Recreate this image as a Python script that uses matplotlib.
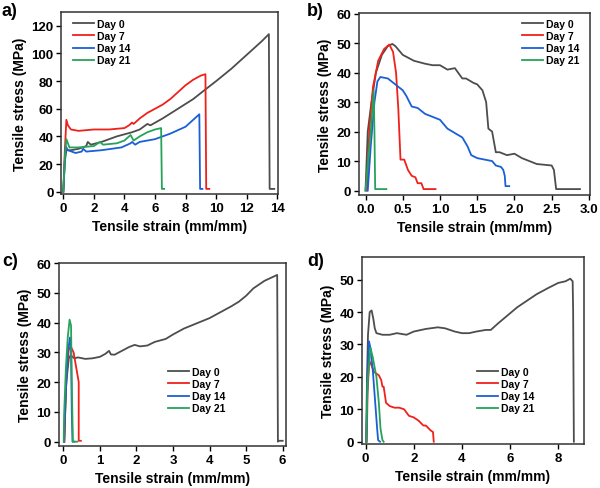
import matplotlib
matplotlib.use("Agg")
import matplotlib.pyplot as plt
import numpy as np

plt.rcParams['font.family'] = ['Liberation Sans', 'DejaVu Sans']
plt.rcParams['font.weight'] = 'bold'

labels = ["Day 0", "Day 7", "Day 14", "Day 21"]
colors = ["#4d4d4d", "#f0201a", "#1a5fd6", "#26a35a"]

# ---- panel a ----
a_d0_x = [0.0, 0.1, 0.2, 0.5, 1.0, 1.5, 1.6, 1.8, 2.5, 3.5, 4.5, 5.0, 5.5, 5.7, 6.5, 7.5, 8.5, 9.3, 10.0, 11.0, 12.0, 13.0, 13.45, 13.5, 13.55, 13.8]
a_d0_y = [0, 22, 30, 30, 31, 33, 36, 34, 36, 40, 43, 45, 49, 48, 53, 60, 67, 74, 80, 89, 99, 109, 114, 2, 2, 2]
a_d7_x = [0.0, 0.1, 0.2, 0.3, 0.5, 1.0, 2.0, 3.0, 4.0, 4.3, 4.5, 4.6, 5.0, 5.5, 6.0, 6.5, 7.0, 7.5, 8.0, 8.5, 9.0, 9.3, 9.35, 9.55]
a_d7_y = [0, 30, 52, 48, 45, 44, 45, 45, 46, 48, 50, 49, 53, 57, 60, 63, 67, 72, 77, 81, 84, 85, 2, 2]
a_d14_x = [0.0, 0.08, 0.15, 0.3, 0.8, 1.2, 1.3, 1.5, 2.5, 3.8, 4.4, 4.5, 4.7, 5.0, 6.0, 7.0, 8.0, 8.5, 8.9, 8.95, 9.1]
a_d14_y = [0, 18, 33, 30, 28, 29, 31, 29, 30, 32, 35, 36, 34, 36, 38, 42, 47, 52, 56, 2, 2]
a_d21_x = [0.0, 0.1, 0.2, 0.4, 1.0, 2.0, 2.4, 2.6, 3.5, 4.0, 4.4, 4.6, 5.0, 5.5, 6.0, 6.4, 6.45, 6.6]
a_d21_y = [0, 25, 38, 32, 32, 33, 36, 34, 35, 37, 41, 37, 40, 43, 45, 46, 2, 2]

# ---- panel b ----
b_d0_x = [0.0, 0.03, 0.08, 0.14, 0.22, 0.3, 0.36, 0.4, 0.5, 0.65, 0.8, 0.9, 1.0, 1.1, 1.2, 1.3, 1.35, 1.45, 1.5, 1.57, 1.62, 1.65, 1.7, 1.75, 1.8, 1.9, 2.0, 2.1, 2.2, 2.3, 2.5, 2.53, 2.56, 2.88]
b_d0_y = [0, 20, 30, 40, 46, 49, 49.7, 49, 46, 44, 43, 42.5, 42.5, 41, 41.5, 38, 38, 36.5, 36, 34, 30, 21, 20, 13, 13, 12, 12.5, 11, 10, 9, 8.5, 7, 0.5, 0.5]
b_d7_x = [0.02, 0.05, 0.1, 0.17, 0.25, 0.32, 0.37, 0.41, 0.44, 0.47, 0.52, 0.57, 0.62, 0.67, 0.7, 0.75, 0.78, 0.94]
b_d7_y = [0, 20, 35, 44, 48, 49.5, 47, 40, 28, 10.5, 10.5, 7, 5, 4.5, 2.5, 2.5, 0.5, 0.5]
b_d14_x = [0.03, 0.07, 0.12, 0.16, 0.2, 0.3, 0.4, 0.5, 0.55, 0.62, 0.7, 0.8, 0.9, 1.0, 1.1, 1.2, 1.3, 1.37, 1.42, 1.5, 1.6, 1.7, 1.75, 1.82, 1.85, 1.87, 1.88, 1.93]
b_d14_y = [0, 15, 30, 37, 38.5, 38, 36, 34, 32, 28.5, 28, 26, 25, 24, 21, 19.5, 18, 15, 12, 11, 10.5, 10, 8.5, 8, 7, 5, 1.5, 1.5]
b_d21_x = [0.0, 0.07, 0.11, 0.12, 0.13, 0.28]
b_d21_y = [0, 20, 34, 20, 0.5, 0.5]

# ---- panel c ----
c_d0_x = [0.02, 0.08, 0.15, 0.2, 0.3, 0.4, 0.6, 0.8, 1.0, 1.15, 1.25, 1.3, 1.4, 1.6, 1.8, 1.95, 2.1, 2.3, 2.5, 2.8, 3.0, 3.3, 3.6, 4.0, 4.3, 4.6, 4.8, 5.0, 5.2, 5.5, 5.85, 5.87, 5.9, 6.0]
c_d0_y = [0, 20, 28, 29, 28, 28.3, 27.8, 28, 28.5, 29.5, 30.5, 29.3, 29.2, 30.5, 31.8, 32.5, 32, 32.3, 33.5, 34.5, 36, 38, 39.5, 41.5, 43.5, 45.5, 47, 49, 51.5, 54, 56, 0, 0.3, 0.3]
c_d7_x = [0.03, 0.06, 0.1, 0.15, 0.2, 0.28, 0.35, 0.42, 0.42, 0.48]
c_d7_y = [0, 15, 25, 31, 32, 30, 25, 20, 0.3, 0.3]
c_d14_x = [0.02, 0.06, 0.12, 0.18, 0.21, 0.23, 0.25, 0.3]
c_d14_y = [0, 15, 30, 35, 31, 10, 0, 0]
c_d21_x = [0.01, 0.02, 0.07, 0.12, 0.17, 0.21, 0.23, 0.26, 0.38]
c_d21_y = [0, 9, 25, 35, 41, 39, 20, 0, 0]

# ---- panel d ----
d_d0_x = [0.02, 0.06, 0.1, 0.17, 0.25, 0.32, 0.38, 0.45, 0.7, 1.0, 1.3, 1.7, 2.0, 2.5, 3.0, 3.3, 3.7, 4.0, 4.3, 4.6, 5.0, 5.2, 5.5, 5.9, 6.3, 6.7, 7.1, 7.6, 8.0, 8.3, 8.5, 8.6, 8.62, 8.65]
d_d0_y = [0, 20, 33, 40, 40.5, 38, 35, 33.5, 33, 33, 33.5, 33, 34, 34.8, 35.3, 35, 34, 33.5, 33.5, 34, 34.5, 34.5, 36.5, 39, 41.5, 43.5, 45.5, 47.5, 49, 49.5, 50.3, 49.5, 40, 0]
d_d7_x = [0.05, 0.08, 0.15, 0.25, 0.35, 0.45, 0.55, 0.65, 0.7, 0.75, 0.85, 1.0, 1.2, 1.4, 1.6, 1.7, 1.8, 2.0, 2.2, 2.4, 2.5, 2.7, 2.8, 2.83]
d_d7_y = [0, 15, 25, 23.5, 21.5, 21, 20.5, 19, 17, 17, 12, 11, 10.5, 10.5, 10, 9, 8, 7.5, 6.5, 5, 5, 3.5, 3, 0]
d_d14_x = [0.03, 0.08, 0.14, 0.2, 0.3, 0.4, 0.48, 0.52, 0.6]
d_d14_y = [0, 20, 31, 29, 22, 12, 4, 0.5, 0]
d_d21_x = [0.03, 0.08, 0.2, 0.3, 0.45, 0.55, 0.62, 0.7, 0.75]
d_d21_y = [0, 18, 29, 26, 20, 12, 4, 0.5, 0]

panels = [
    ("a)", [(a_d0_x, a_d0_y), (a_d7_x, a_d7_y), (a_d14_x, a_d14_y), (a_d21_x, a_d21_y)],
     [0.1017, 0.6012, 0.3617, 0.3722], (-0.15, 14.05), (-1.7, 130),
     np.arange(0, 15, 2), np.arange(0, 121, 20), "%d", (73, 20), (2, 3)),
    ("b)", [(b_d0_x, b_d0_y), (b_d7_x, b_d7_y), (b_d14_x, b_d14_y), (b_d21_x, b_d21_y)],
     [0.598, 0.5992, 0.386, 0.3722], (-0.09, 3.02), (-1.5, 60.2),
     np.arange(0, 3.01, 0.5), np.arange(0, 61, 10), "%.1f", (522, 20), (307, 3)),
    ("c)", [(c_d0_x, c_d0_y), (c_d7_x, c_d7_y), (c_d14_x, c_d14_y), (c_d21_x, c_d21_y)],
     [0.0983, 0.0859, 0.3783, 0.3742], (-0.12, 6.09), (-1.45, 60),
     np.arange(0, 7, 1), np.arange(0, 61, 10), "%d", (168, 368), (2, 253)),
    ("d)", [(d_d0_x, d_d0_y), (d_d7_x, d_d7_y), (d_d14_x, d_d14_y), (d_d21_x, d_d21_y)],
     [0.6033, 0.09, 0.37, 0.3824], (-0.15, 9.07), (-0.7, 57),
     np.arange(0, 9, 2), np.arange(0, 51, 10), "%d", (477, 368), (307, 253)),
]

fig = plt.figure(figsize=(6, 4.89), dpi=100)
W, H = 600.0, 489.0

for tag, series, rect, xl, yl, xt, yt, fmt, leg, lab in panels:
    ax = fig.add_axes(rect)
    for (xs, ys), name, c in zip(series, labels, colors):
        ax.plot(xs, ys, color=c, lw=1.3, label=name)
    ax.set_xlim(*xl)
    ax.set_ylim(*yl)
    ax.set_xticks(xt)
    ax.set_yticks(yt)
    ax.xaxis.set_major_formatter(matplotlib.ticker.FormatStrFormatter(fmt))
    ax.tick_params(direction='out', length=3.5, width=1, labelsize=9.5, pad=2)
    for s in ax.spines.values():
        s.set_color('#333333')
        s.set_linewidth(1.1)
    ax.set_xlabel("Tensile strain (mm/mm)", fontsize=10, fontweight='bold', labelpad=4)
    ax.set_ylabel("Tensile stress (MPa)", fontsize=10, fontweight='bold', labelpad=3)
    ax.legend(loc='upper left', bbox_to_anchor=(leg[0] / W, 1 - leg[1] / H),
              bbox_transform=fig.transFigure, frameon=False, fontsize=7.5,
              borderpad=0, borderaxespad=0, handlelength=2.0, handletextpad=0.3,
              labelspacing=0.2)
    fig.text(lab[0] / W, 1 - lab[1] / H, tag, fontsize=13, fontweight='bold', va='top', ha='left')

fig.savefig("out.png", dpi=100)
